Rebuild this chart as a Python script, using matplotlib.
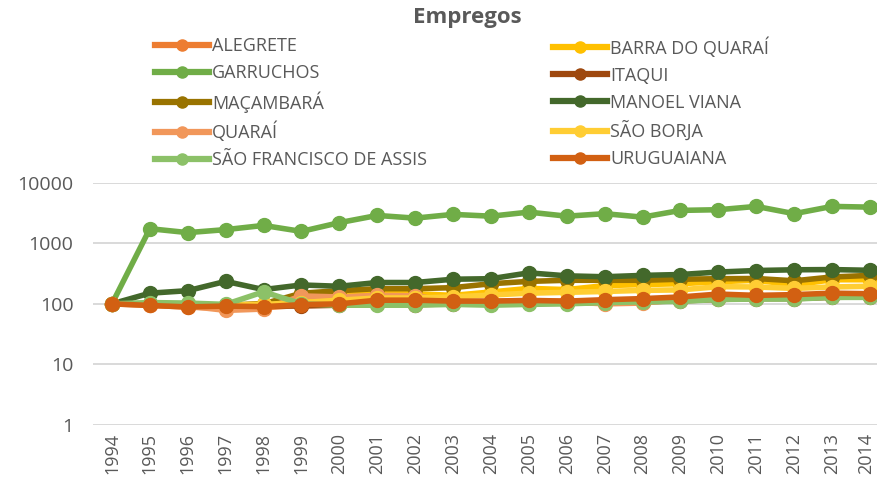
import numpy as np
import matplotlib
matplotlib.use("Agg")
import matplotlib.pyplot as plt
import matplotlib.transforms as mtransforms
from matplotlib.ticker import FixedLocator, FixedFormatter, NullLocator

# ---------------------------
# data (index, 1994 = 100)
# ---------------------------
years = list(range(1994, 2015))

alegrete = [100, 95, 88, 85, 86, 95, 98, 105, 105, 103, 105, 110, 110, 112, 115, 118, 125, 128, 128, 133, 135]
barra_do_quarai = [100, 100, 98, 95, 100, 120, 140, 147, 147, 138, 157, 180, 172, 200, 208, 215, 232, 245, 205, 250, 250]
garruchos = [100, 1740, 1500, 1680, 1970, 1570, 2190, 2880, 2600, 3000, 2800, 3270, 2800, 3080, 2700, 3490, 3580, 4060, 3080, 4060, 3950]
itaqui = [100, 98, 95, 92, 93, 92, 95, 98, 97, 100, 100, 102, 103, 105, 108, 112, 118, 122, 122, 128, 130]
macambara = [100, 100, 95, 95, 100, 150, 165, 178, 178, 185, 215, 235, 245, 245, 245, 255, 260, 262, 240, 278, 295]
manoel_viana = [100, 150, 165, 235, 172, 205, 195, 225, 225, 255, 260, 325, 290, 280, 295, 305, 335, 355, 365, 368, 358]
quarai = [100, 97, 92, 78, 82, 135, 130, 138, 136, 110, 110, 112, 108, 100, 103, 118, 128, 130, 132, 138, 140]
sao_borja = [100, 100, 97, 95, 98, 105, 115, 125, 125, 130, 140, 150, 155, 160, 167, 170, 192, 190, 180, 190, 195]
sao_francisco = [100, 105, 103, 98, 158, 100, 95, 95, 95, 98, 95, 98, 100, 105, 108, 110, 118, 120, 120, 128, 128]
uruguaiana = [100, 94, 89, 92, 90, 97, 100, 115, 115, 111, 111, 114, 111, 117, 122, 130, 145, 138, 142, 150, 147]

names = ["ALEGRETE", "BARRA DO QUARAÍ", "GARRUCHOS", "ITAQUI", "MAÇAMBARÁ",
         "MANOEL VIANA", "QUARAÍ", "SÃO BORJA", "SÃO FRANCISCO DE ASSIS", "URUGUAIANA"]
series = [alegrete, barra_do_quarai, garruchos, itaqui, macambara,
          manoel_viana, quarai, sao_borja, sao_francisco, uruguaiana]
colors = ["#ED7D31", "#FFC000", "#70AD47", "#9E480E", "#997300",
          "#43682B", "#F1975A", "#FFCD33", "#8CC168", "#D26012"]

y_ticks = [1, 10, 100, 1000, 10000]

plt.rcParams['font.family'] = ['Open Sans', 'DejaVu Sans']
txt = "#595959"

fig = plt.figure(figsize=(8.77, 4.91), dpi=100)
ax = fig.add_axes([93/877, 1 - 425/491, (877 - 93)/877, (425 - 182.7)/491])

handles = []
for name, vals, c in zip(names, series, colors):
    h, = ax.plot(years, vals, color=c, lw=4, marker='o', ms=10,
                 solid_joinstyle='round', label=name, clip_on=False)
    handles.append(h)

ax.set_yscale('log')
ax.set_ylim(1, 10000)
ax.set_xlim(1993.5, 2014 + 7/37.9)
ax.yaxis.set_major_locator(FixedLocator(y_ticks))
ax.yaxis.set_major_formatter(FixedFormatter([str(v) for v in y_ticks]))
ax.yaxis.set_minor_locator(NullLocator())
ax.set_xticks(years)
ax.set_xticklabels([str(y) for y in years], rotation=90)
ax.tick_params(axis='y', length=0, labelsize=14, colors=txt, pad=14)
ax.tick_params(axis='x', length=0, labelsize=13, colors=txt, pad=6)
ax.grid(axis='y', color='#D9D9D9', lw=1.4)
ax.set_axisbelow(True)
for s in ax.spines.values():
    s.set_visible(False)

# last year label sits on the figure edge: nudge it in a little
last = ax.get_xticklabels()[-1]
last.set_transform(last.get_transform() +
                   mtransforms.ScaledTranslation(-4/100, 0, fig.dpi_scale_trans))

# legend in two columns, placed like the original
leg_kw = dict(loc='upper left', frameon=False, fontsize=13, handlelength=3.0,
              handletextpad=0.15, labelspacing=0.5, borderpad=0, labelcolor=txt)
left_idx = [0, 2, 4, 6, 8]
right_idx = [1, 3, 5, 7, 9]
leg1 = fig.legend([handles[i] for i in left_idx], [names[i] for i in left_idx],
                  bbox_to_anchor=(146/877, 1 - 28/491), **leg_kw)
leg2 = fig.legend([handles[i] for i in right_idx], [names[i] for i in right_idx],
                  bbox_to_anchor=(544/877, 1 - 28/491), **leg_kw)
for leg in (leg1, leg2):
    for lh in leg.legend_handles:
        lh.set_markersize(8)
        lh.set_linewidth(4.5)

fig.text(467/877, 1 - 18/491, "Empregos", ha='center', va='center',
         fontsize=16, fontweight='bold', color=txt)

fig.savefig("out.png", dpi=100)
